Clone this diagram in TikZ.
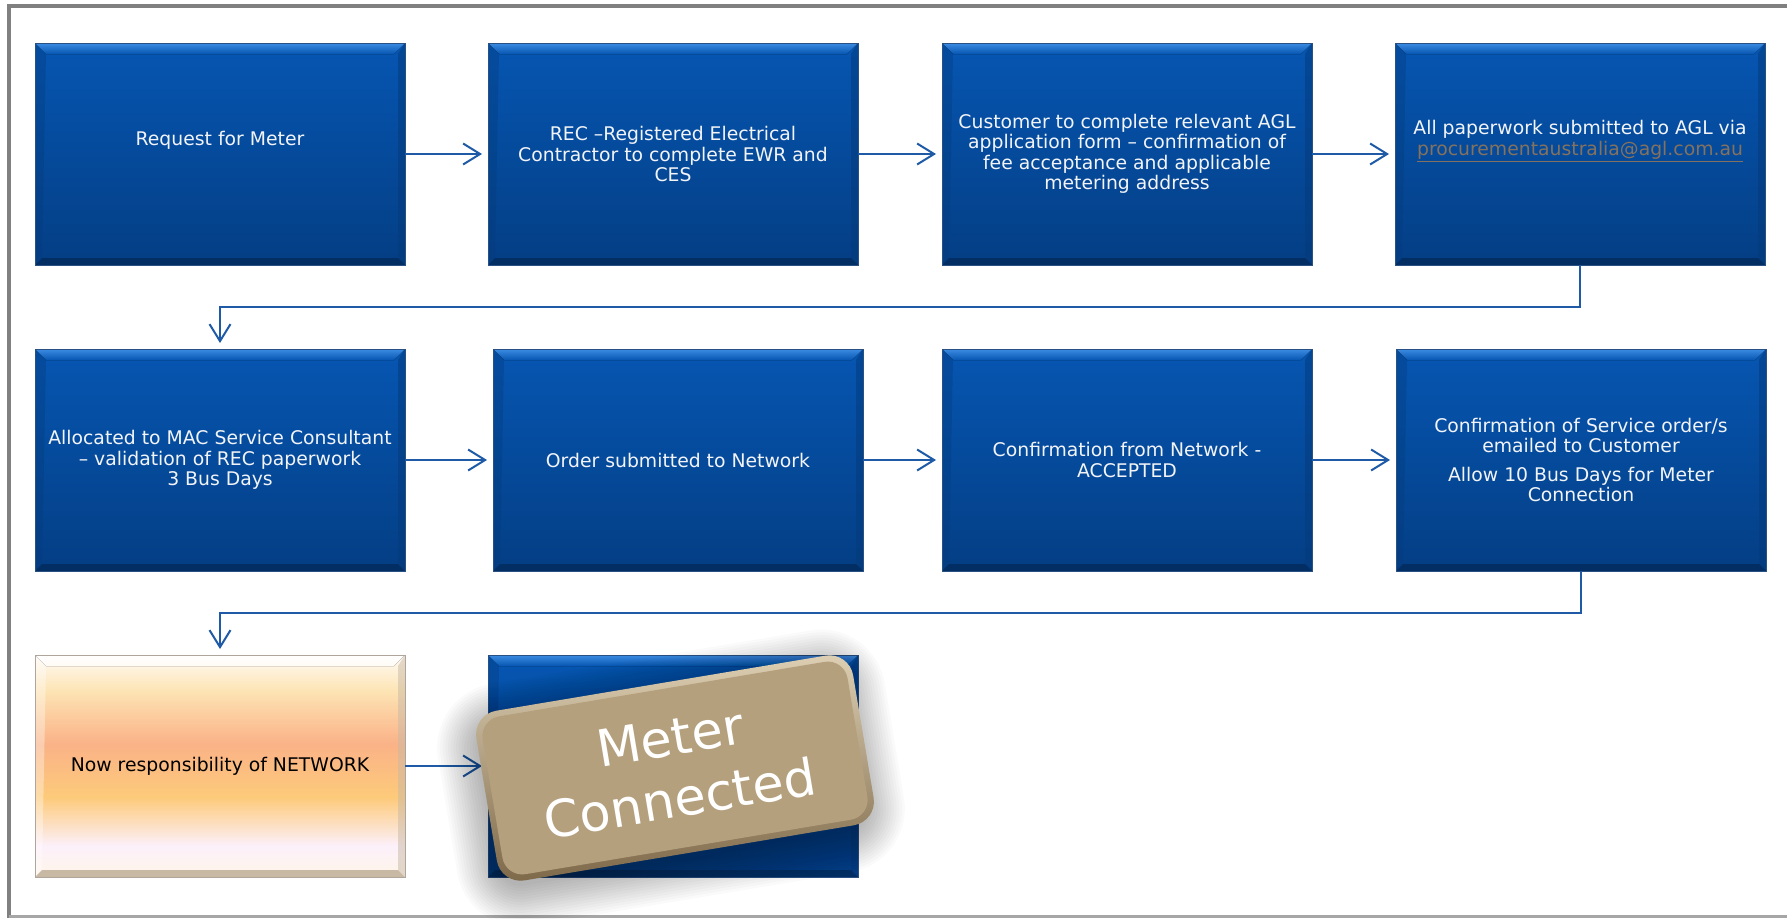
\documentclass[tikz,border=0pt]{standalone}
\usepackage{fontspec}
\setmainfont{DejaVu Sans}
\usetikzlibrary{arrows.meta}

\definecolor{blueT}{RGB}{6,86,178}
\definecolor{blueB}{RGB}{4,62,132}
\definecolor{bevT}{RGB}{60,140,226}
\definecolor{blueS}{RGB}{4,58,122}
\definecolor{bevD}{RGB}{3,46,100}
\definecolor{blueEdge}{RGB}{40,80,130}
\definecolor{txtW}{RGB}{242,244,248}
\definecolor{linkC}{RGB}{132,114,94}
\definecolor{arrowC}{RGB}{30,90,165}
\definecolor{frameC}{RGB}{128,128,128}
\definecolor{oA}{RGB}{255,246,232}
\definecolor{oB}{RGB}{252,240,250}
\definecolor{oC}{RGB}{253,202,122}
\definecolor{oD}{RGB}{250,178,135}
\definecolor{oE}{RGB}{253,228,180}
\definecolor{oF}{RGB}{255,251,246}
\definecolor{oEdge}{RGB}{175,165,155}
\definecolor{oBevD}{RGB}{200,185,165}
\definecolor{tanC}{RGB}{181,160,126}
\definecolor{tagL}{RGB}{222,208,180}
\definecolor{tagD}{RGB}{125,104,72}

\pgfdeclareverticalshading{orangesh}{100bp}{color(0bp)=(oA); color(25bp)=(oA); color(32bp)=(oB); color(43bp)=(oC); color(55bp)=(oD); color(67bp)=(oE); color(75bp)=(oF); color(100bp)=(oF)}

\tikzset{
  box/.style={minimum width=370pt, minimum height=222pt, inner sep=0pt, outer sep=0pt, anchor=north west},
  bevels/.style n args={5}{path picture={
     \coordinate (pNW) at (path picture bounding box.north west);
     \coordinate (pNE) at (path picture bounding box.north east);
     \coordinate (pSW) at (path picture bounding box.south west);
     \coordinate (pSE) at (path picture bounding box.south east);
     \fill[top color=#1, bottom color=#2] (pNW) -- (pNE) -- ([xshift=-11pt,yshift=-11pt]pNE) -- ([xshift=11pt,yshift=-11pt]pNW) -- cycle;
     \fill[#3, opacity=0.5] (pNE) -- (pSE) -- ([xshift=-7pt,yshift=7pt]pSE) -- ([xshift=-7pt,yshift=-11pt]pNE) -- cycle;
     \fill[#4, opacity=0.35] (pNW) -- ([xshift=11pt,yshift=-11pt]pNW) -- ([xshift=7pt,yshift=7pt]pSW) -- (pSW) -- cycle;
     \fill[#5] (pSW) -- (pSE) -- ([xshift=-7pt,yshift=7pt]pSE) -- ([xshift=7pt,yshift=7pt]pSW) -- cycle;
  }},
  boxtext/.style={align=center, font=\fontsize{18.8}{20.5}\selectfont},
  bluebox/.style={box, top color=blueT, bottom color=blueB, draw=blueEdge, line width=0.6pt,
     bevels={bevT}{blueT}{blueS}{blueS}{bevD}, text=txtW, boxtext},
  orangebox/.style={box, shading=orangesh, draw=oEdge, line width=0.8pt,
     bevels={white}{oF}{oBevD}{white}{oBevD}, text=black, boxtext},
  lbl/.style={text=txtW, boxtext, inner sep=0pt},
  conn/.style={draw=arrowC, line width=2pt, shorten >=6pt,
     -{Straight Barb[length=17pt,width=21pt,line width=2pt]}},
  tagouter/.style={rounded corners=24pt, minimum width=382pt, minimum height=172pt, inner sep=0pt,
     top color=tagL, bottom color=tagD},
  taginner/.style={rounded corners=20pt, minimum width=370pt, minimum height=160pt, inner sep=0pt,
     fill=tanC, text=white, align=center, font=\fontsize{51}{62}\selectfont},
  shadowlayer/.style={fill=black, opacity=0.021},
}

\begin{document}
\begin{tikzpicture}[x=1pt, y=-1pt]
\useasboundingbox[fill=white] (0,0) rectangle (1787,918);

% frame
\draw[frameC, line width=4.5pt] (9,918) -- (9,6) -- (1787,6);
\draw[frameC!70, line width=3pt] (9,916.5) -- (1787,916.5);

% row 1
\node[bluebox] (b1) at (35,43) {};
\node[lbl] (t1) at ([yshift=14pt]b1.center) {Request for Meter};
\node[bluebox] (b2) at (488,43) {REC –Registered Electrical\\Contractor to complete EWR and\\CES};
\node[bluebox] (b3) at (942,43) {Customer to complete relevant AGL\\application form – confirmation of\\fee acceptance and applicable\\metering address};
\node[bluebox] (b4) at (1395,43) {};
\node[lbl] (t4) at ([yshift=13pt]b4.center) {All paperwork submitted to AGL via\\\textcolor{linkC}{\underline{procurementaustralia@agl.com.au}}};

% row 2
\node[bluebox] (b5) at (35,349) {Allocated to MAC Service Consultant\\– validation of REC paperwork\\3 Bus Days};
\node[bluebox] (b6) at (493,349) {Order submitted to Network};
\node[bluebox] (b7) at (942,349) {Confirmation from Network -\\ACCEPTED};
\node[bluebox] (b8) at (1396,349) {Confirmation of Service order/s\\emailed to Customer\\[8pt]Allow 10 Bus Days for Meter\\Connection};

% row 3
\node[orangebox] (b9) at (35,655) {Now responsibility of NETWORK};
\node[bluebox] (b10) at (488,655) {};

% connectors
\coordinate (e1) at (220,307);
\coordinate (e2) at (220,613);
\draw[conn] (b1.east) -- (b2.west);
\draw[conn] (b2.east) -- (b3.west);
\draw[conn] (b3.east) -- (b4.west);
\draw[conn] (b4.south) |- (e1) -- (b5.north);
\draw[conn] (b5.east) -- (b6.west);
\draw[conn] (b6.east) -- (b7.west);
\draw[conn] (b7.east) -- (b8.west);
\draw[conn] (b8.south) |- (e2) -- (b9.north);
\draw[conn] (b9.east) -- (b10.west);

% soft shadow of the tag
\begin{scope}[shift={(671,778)}, rotate=9.5]
  \foreach \i [evaluate=\i as \d using 186+\i*2.7, evaluate=\i as \h using 82+\i*2.7, evaluate=\i as \rc using 24+\i*2.7] in {0,...,15}
    \fill[shadowlayer, rounded corners=\rc pt] (-\d,-\h) rectangle (\d,\h);
\end{scope}

% Meter Connected tag
\node[tagouter, rotate=9.5] (mco) at (675,768) {};
\node[taginner, rotate=9.5] (mc) at (675,768) {Meter\\Connected};
\end{tikzpicture}
\end{document}
